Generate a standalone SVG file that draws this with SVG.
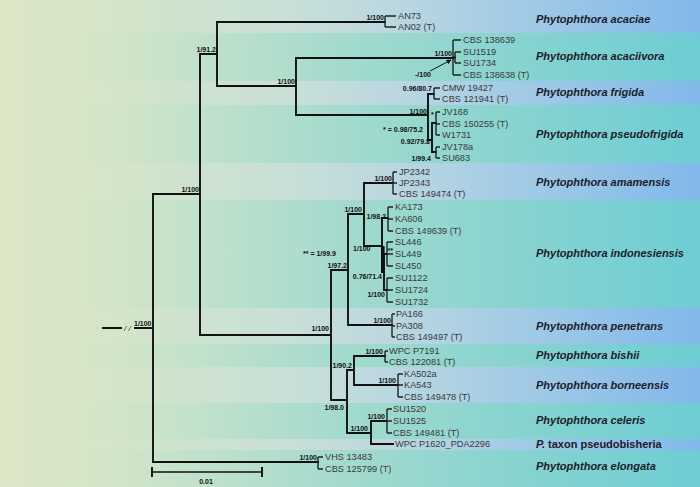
<svg xmlns="http://www.w3.org/2000/svg" width="700" height="487" viewBox="0 0 700 487">
<defs>
<linearGradient id="gBase" x1="0" y1="0" x2="700" y2="0" gradientUnits="userSpaceOnUse">
<stop offset="0" stop-color="#dde6c7"/>
<stop offset="0.15" stop-color="#d3e5c8"/>
<stop offset="0.3" stop-color="#bfe1cb"/>
<stop offset="0.5" stop-color="#a2dace"/>
<stop offset="0.75" stop-color="#86d3d0"/>
<stop offset="1" stop-color="#6ecdd4"/>
</linearGradient>
<linearGradient id="gLight" x1="0" y1="0" x2="700" y2="0" gradientUnits="userSpaceOnUse">
<stop offset="0" stop-color="#dde6c7" stop-opacity="0"/>
<stop offset="0.2" stop-color="#d8e5cc" stop-opacity="0.5"/>
<stop offset="0.4" stop-color="#cde0d8" stop-opacity="0.9"/>
<stop offset="0.55" stop-color="#bcd8e0"/>
<stop offset="0.75" stop-color="#a1cae6"/>
<stop offset="1" stop-color="#82b8ea"/>
</linearGradient>
<marker id="arr" viewBox="0 0 10 10" refX="9" refY="5" markerWidth="5" markerHeight="5" orient="auto">
<path d="M0,0 L10,5 L0,10 z" fill="#111"/>
</marker>
</defs>
<style>
.br{fill:none;stroke:#111;stroke-width:1.9;stroke-linecap:square}
.lf{fill:none;stroke:#222;stroke-width:1.4}
.tx{font-family:"Liberation Sans",Arial,sans-serif;font-size:9.2px;fill:#3a3a3a}
.sp{font-family:"Liberation Sans",Arial,sans-serif;font-size:11px;font-weight:bold;font-style:italic;fill:#1c1c2a}
.su{font-family:"Liberation Sans",Arial,sans-serif;font-size:7px;font-weight:bold;fill:#111}
.r{text-anchor:end}
</style>
<g id="background">
<rect x="0" y="0" width="700" height="487" fill="url(#gBase)"/>
<rect x="0" y="0" width="700" height="33" fill="url(#gLight)"/>
<rect x="0" y="81" width="700" height="24" fill="url(#gLight)"/>
<rect x="0" y="163" width="700" height="37" fill="url(#gLight)"/>
<rect x="0" y="308" width="700" height="36" fill="url(#gLight)"/>
<rect x="0" y="367" width="700" height="36" fill="url(#gLight)"/>
<rect x="0" y="439" width="700" height="11" fill="url(#gLight)"/>
</g>
<g id="connectors">
<path class="br" d="M103,328 H121 M135,328 H153 M153,194 V462 M153,194 H200 M200,54 V335 M200,54 H217 M217,22 V86 M217,22 H385 M217,86 H296 M296,58 V115 M296,58 H453 M296,115 H428 M200,335 H331 M331,270 V400 M331,270 H348 M348,214 V325 M348,214 H364 M364,183 V246 M364,183 H393 M364,246 H382 M348,325 H392 M331,400 H347 M347,370 V433 M347,370 H354 M354,356 V385 M354,356 H385 M354,385 H398 M347,433 H371 M371,421 V444 M371,421 H387 M371,444 H393 M153,462 H318"/>
<path class="br" d="M428,94 V140 M428,94 H434 M428,140 H432 M432,123 V152 M432,123 H436 M432,152 H436 M382,218 V272 M382,218 H388 M382,272 H384 M384,254 V290 M384,254 H387 M384,290 H387 M453,57.5 H455"/>
<rect x="381" y="246" width="3.6" height="26" fill="#111"/>
<line x1="430" y1="71" x2="451" y2="60" stroke="#111" stroke-width="1" marker-end="url(#arr)"/>
<path class="br" d="M152,468 V476 M262,468 V476"/>
<line x1="152" y1="472" x2="262" y2="472" stroke="#111" stroke-width="1.6"/>
</g>
<g id="root-break">
<text x="124" y="331" style="font-family:'Liberation Sans',Arial,sans-serif;font-size:8px;font-style:italic;fill:#333">/ /</text>
</g>
<g id="supports">
<text class="su" x="134" y="326">1/100</text>
<text class="su r" x="199" y="192">1/100</text>
<text class="su r" x="216" y="52">1/91.2</text>
<text class="su r" x="384" y="19.5">1/100</text>
<text class="su r" x="295" y="83.5">1/100</text>
<text class="su r" x="452" y="55.5">1/100</text>
<text class="su" x="415" y="76.5">-/100</text>
<text class="su r" x="427" y="113.5">1/100</text>
<text class="su r" x="432" y="91">0.96/80.7</text>
<text class="su r" x="423" y="131.5">* = 0.98/75.2</text>
<text class="su r" x="430" y="144">0.92/79.8</text>
<text class="su r" x="431" y="160.5">1/99.4</text>
<text class="su" x="431" y="117">*</text>
<text class="su r" x="392" y="180.5">1/100</text>
<text class="su r" x="362" y="211.5">1/100</text>
<text class="su r" x="386" y="218.5">1/98.2</text>
<text class="su" x="353" y="250.5">1/100</text>
<text class="su" x="387.5" y="253">**</text>
<text class="su r" x="382" y="278.5">0.76/71.4</text>
<text class="su r" x="385" y="296.5">1/100</text>
<text class="su" x="303" y="255.5">** = 1/99.9</text>
<text class="su r" x="347" y="267.5">1/97.2</text>
<text class="su r" x="329" y="331">1/100</text>
<text class="su r" x="391" y="323">1/100</text>
<text class="su r" x="352" y="368">1/90.2</text>
<text class="su r" x="383" y="353.5">1/100</text>
<text class="su r" x="396" y="383">1/100</text>
<text class="su r" x="344" y="409.5">1/98.0</text>
<text class="su r" x="368" y="430.5">1/100</text>
<text class="su r" x="385" y="418.5">1/100</text>
<text class="su r" x="317" y="460">1/100</text>
<text class="su" x="206" y="484" text-anchor="middle">0.01</text>
</g>
<g id="acaciae">
<path class="lf" d="M385,16 V27 M385,16 H396 M385,27 H396"/>
<text class="tx" x="398" y="19.3">AN73</text>
<text class="tx" x="398" y="30.3">AN02 (T)</text>
<text class="sp" x="536" y="23">Phytophthora acaciae</text>
</g>
<g id="acaciivora">
<path class="lf" d="M453,40 V75 M455,52 V63 M453,40 H461 M455,52 H461 M455,63 H461 M453,75 H461"/>
<text class="tx" x="463" y="43.3">CBS 138639</text>
<text class="tx" x="463" y="55.3">SU1519</text>
<text class="tx" x="463" y="66.3">SU1734</text>
<text class="tx" x="463" y="78.3">CBS 138638 (T)</text>
<text class="sp" x="536" y="60">Phytophthora acaciivora</text>
</g>
<g id="frigida">
<path class="lf" d="M434,88 V99 M434,88 H440 M434,99 H440"/>
<text class="tx" x="442" y="91.3">CMW 19427</text>
<text class="tx" x="442" y="102.3">CBS 121941 (T)</text>
<text class="sp" x="536" y="96">Phytophthora frigida</text>
</g>
<g id="pseudofrigida">
<path class="lf" d="M436,112 V135 M436,112 H440 M436,124 H440 M436,135 H440 M436,147 V158 M436,147 H440 M436,158 H440"/>
<text class="tx" x="442" y="115.3">JV168</text>
<text class="tx" x="442" y="127.3">CBS 150255 (T)</text>
<text class="tx" x="442" y="138.3">W1731</text>
<text class="tx" x="442" y="150.3">JV178a</text>
<text class="tx" x="442" y="161.3">SU683</text>
<text class="sp" x="536" y="138">Phytophthora pseudofrigida</text>
</g>
<g id="amamensis">
<path class="lf" d="M393,172 V194 M393,172 H397 M393,183 H397 M393,194 H397"/>
<text class="tx" x="399" y="175.3">JP2342</text>
<text class="tx" x="399" y="186.3">JP2343</text>
<text class="tx" x="399" y="197.3">CBS 149474 (T)</text>
<text class="sp" x="536" y="186">Phytophthora amamensis</text>
</g>
<g id="indonesiensis">
<path class="lf" d="M388,207 V231 M388,207 H393 M388,219 H393 M388,231 H393 M387,242 V266 M387,242 H393 M387,254 H393 M387,266 H393 M387,278 V302 M387,278 H393 M387,290 H393 M387,302 H393"/>
<text class="tx" x="395" y="210.3">KA173</text>
<text class="tx" x="395" y="222.3">KA606</text>
<text class="tx" x="395" y="234.3">CBS 149639 (T)</text>
<text class="tx" x="395" y="245.3">SL446</text>
<text class="tx" x="395" y="257.3">SL449</text>
<text class="tx" x="395" y="269.3">SL450</text>
<text class="tx" x="395" y="281.3">SU1122</text>
<text class="tx" x="395" y="293.3">SU1724</text>
<text class="tx" x="395" y="305.3">SU1732</text>
<text class="sp" x="536" y="257">Phytophthora indonesiensis</text>
</g>
<g id="penetrans">
<path class="lf" d="M392,314 V337 M392,314 H395 M392,326 H395 M392,337 H395"/>
<text class="tx" x="396" y="317.3">PA166</text>
<text class="tx" x="396" y="329.3">PA308</text>
<text class="tx" x="396" y="340.3">CBS 149497 (T)</text>
<text class="sp" x="536" y="330">Phytophthora penetrans</text>
</g>
<g id="bishii">
<path class="lf" d="M385,351 V362 M385,351 H388 M385,362 H388"/>
<text class="tx" x="389" y="354.3">WPC P7191</text>
<text class="tx" x="389" y="365.3">CBS 122081 (T)</text>
<text class="sp" x="536" y="359">Phytophthora bishii</text>
</g>
<g id="borneensis">
<path class="lf" d="M398,374 V397 M398,374 H403 M398,385 H403 M398,397 H403"/>
<text class="tx" x="404" y="377.3">KA502a</text>
<text class="tx" x="404" y="388.3">KA543</text>
<text class="tx" x="404" y="400.3">CBS 149478 (T)</text>
<text class="sp" x="536" y="389">Phytophthora borneensis</text>
</g>
<g id="celeris">
<path class="lf" d="M387,409 V433 M387,409 H392 M387,421 H392 M387,433 H392"/>
<text class="tx" x="393" y="412.3">SU1520</text>
<text class="tx" x="393" y="424.3">SU1525</text>
<text class="tx" x="393" y="436.3">CBS 149481 (T)</text>
<text class="sp" x="536" y="424">Phytophthora celeris</text>
</g>
<g id="pseudobisheria">
<text class="tx" x="395" y="447.3">WPC P1620_PDA2296</text>
<text class="sp" x="536" y="448">P.<tspan style="font-style:normal"> taxon pseudobisheria</tspan></text>
</g>
<g id="elongata">
<path class="lf" d="M318,457 V469 M318,457 H323 M318,469 H323"/>
<text class="tx" x="325" y="460.3">VHS 13483</text>
<text class="tx" x="325" y="472.3">CBS 125799 (T)</text>
<text class="sp" x="536" y="470">Phytophthora elongata</text>
</g>
</svg>
